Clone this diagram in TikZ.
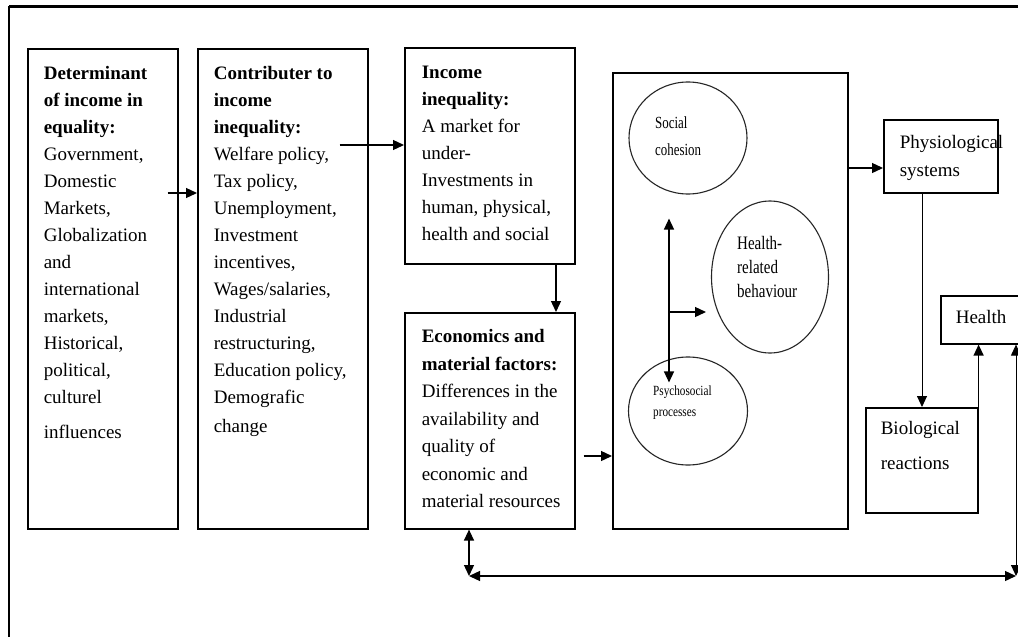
\documentclass[tikz,border=0pt]{standalone}
\usepackage{fontspec}
\setmainfont{Liberation Serif}
\usepackage{graphicx}
\usetikzlibrary{arrows.meta,shapes.geometric}
% width height topskip leftskip baselineskip text
\newcommand\boxtxt[6]{\parbox[c][#2pt][t]{#1pt}{\fontsize{19}{#5}\selectfont\raggedright\hyphenpenalty=10000\exhyphenpenalty=10000\leftskip=#4pt\relax\vspace*{#3pt}#6\par}}
\newcommand\sqz[4]{\scalebox{#1}[1]{\fontsize{#2}{#3}\selectfont\begin{tabular}{@{}l@{}}#4\end{tabular}}}
\begin{document}
\begin{tikzpicture}[x=1pt,y=-1pt,
  box/.style={draw, line width=1.6pt, inner sep=0pt, anchor=north west, rectangle},
  ell/.style={draw, ellipse, line width=1.1pt, inner sep=0pt, draw=black!85},
  lbl/.style={anchor=west, inner sep=0pt},
  arr/.style={line width=1.3pt, -{Triangle[length=11pt,width=10pt]}},
  dbl/.style={line width=1.3pt, {Triangle[length=11pt,width=10pt]}-{Triangle[length=11pt,width=10pt]}}]
\useasboundingbox (0,0) rectangle (1018,637);
\fill[white] (0,0) rectangle (1018,637);
% outer frame (cropped)
\draw[line width=3pt] (9,6) -- (1018,6);
\draw[line width=2pt] (9,6) -- (9,637);

\node[box] (b1) at (27,48) {\boxtxt{150}{480}{18}{16}{27}{\textbf{Determinant\\of income in\\equality:}\\Government,\\Domestic\\Markets,\\Globalization\\and\\international\\markets,\\Historical,\\political,\\culturel\\[8pt]influences}};
\node[box] (b2) at (197,48) {\boxtxt{170}{480}{18}{16}{27}{\textbf{Contributer to\\income\\inequality:}\\Welfare policy,\\Tax policy,\\Unemployment,\\Investment\\incentives,\\Wages/salaries,\\Industrial\\restructuring,\\Education policy,\\Demografic\\[2pt]change}};
\node[box] (b3) at (404,47) {\boxtxt{170}{216}{18}{17}{27}{\textbf{Income\\inequality:}\\A market for\\under-\\Investments in\\human, physical,\\health and social}};
\node[box] (b4) at (404,312) {\boxtxt{170}{216}{17}{17}{27.5}{\textbf{Economics and\\material factors:}\\Differences in the\\availability and\\quality of\\economic and\\material resources}};
\node[box, minimum width=235pt, minimum height=456pt] (big) at (612,72) {};
\node[box] (phys) at (883,119) {\boxtxt{114}{73}{16}{16}{28}{Physiological\\systems}};
\node[box] (bio) at (865,407) {\boxtxt{112}{105}{14}{15}{35}{Biological\\reactions}};
\node[box] (health) at (940,295) {\boxtxt{95}{48}{15}{15}{27}{Health}};

\node[ell, minimum width=118pt, minimum height=112pt] (soc) at (688,138) {};
\node[ell, minimum width=117pt, minimum height=152pt] (hb) at (770,277) {};
\node[ell, minimum width=119pt, minimum height=108pt] (psy) at (688,411) {};
\node[lbl] (tsoc) at (655,137) {\sqz{0.76}{17}{27}{Social\\cohesion}};
\node[lbl] (thb) at (737,269) {\sqz{0.79}{19}{24}{Health-\\related\\behaviour}};
\node[lbl] (tpsy) at (653,402) {\sqz{0.8}{14}{21}{Psychosocial\\processes}};

% connectors
\draw[arr] ([shift={(-11,145)}]b1.north east) -- ([shift={(0,145)}]b2.north west);
\draw[arr] ([shift={(-29,97)}]b2.north east) -- ([shift={(0,98)}]b3.north west);
\draw[arr] ([shift={(152,0)}]b3.south west) -- ([shift={(152,0)}]b4.north west);
\draw[arr] ([shift={(8,144)}]b4.north east) -- ([shift={(0,384)}]big.north west);
\draw[arr] ([shift={(0,96)}]big.north east) -- ([shift={(0,49)}]phys.north west);
\draw[arr, line width=0.9pt] ([shift={(39,0)}]phys.south west) -- ([shift={(57,0)}]bio.north west);
\draw[arr] (bio.north east) -- (bio.north east |- health.south);

\coordinate (bl) at (469,576);
\coordinate (br) at (1016,576);
\draw[dbl] ([shift={(65,0)}]b4.south west) -- (bl);
\draw[dbl] (bl) -- (br);
\draw[dbl, line width=1pt] ([shift={(76,0)}]health.south west) -- (br);

\coordinate (mid) at (669,312);
\draw[dbl] ([shift={(-19,24)}]soc.south) -- ([shift={(-19,26)}]psy.north);
\draw[arr] (mid) -- ([shift={(-64,35)}]hb.center);
\end{tikzpicture}
\end{document}
